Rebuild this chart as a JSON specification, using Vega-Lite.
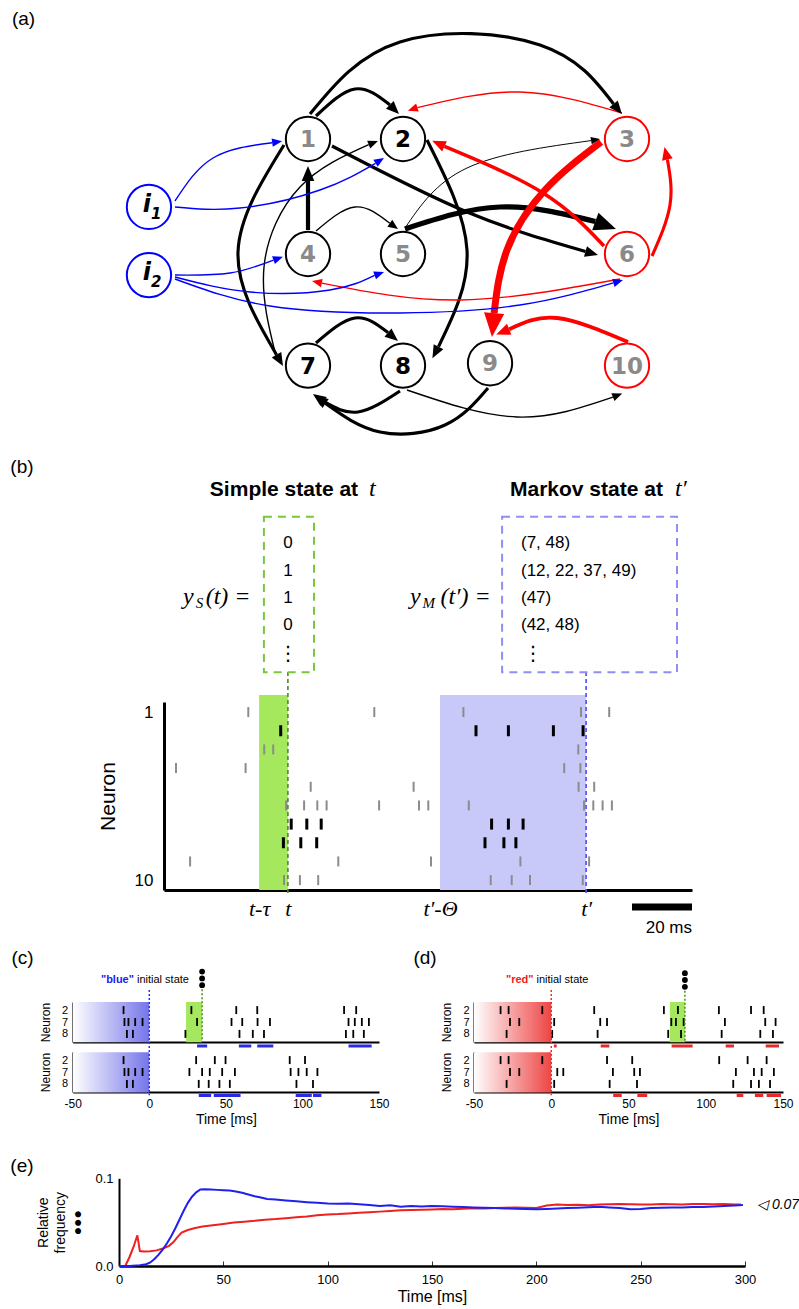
{
"$schema": "https://vega.github.io/schema/vega-lite/v6.json",
"width": 799, "height": 1309,
"autosize": {"type": "none"},
"padding": 0,
"background": "white",
"config": {
  "view": {"stroke": null},
  "axis": {"grid": false, "labelFont": "Liberation Sans", "titleFont": "Liberation Sans", "labelColor": "black", "titleColor": "black", "domainColor": "black", "tickColor": "black", "zindex": 1, "labelOverlap": false, "labelFlush": false, "titleFontWeight": "normal"},
  "text": {"font": "Liberation Sans", "color": "black"}
},
"datasets": {
  "panelLetters": [
    {"panel": "(a)", "xp": 2.94, "yp": 1.45},
    {"panel": "(b)", "xp": 2.75, "yp": 35.68},
    {"panel": "(c)", "xp": 2.82, "yp": 73.19},
    {"panel": "(d)", "xp": 53.19, "yp": 73.19},
    {"panel": "(e)", "xp": 2.75, "yp": 89.08}
  ],
  "nodes": [
    {"id": "1", "u": 0, "v": 0, "type": "excitatory", "observed": false},
    {"id": "2", "u": 1, "v": 0, "type": "excitatory", "observed": true},
    {"id": "3", "u": 3.358, "v": 0, "type": "inhibitory", "observed": false},
    {"id": "4", "u": 0, "v": 1, "type": "excitatory", "observed": false},
    {"id": "5", "u": 1, "v": 1, "type": "excitatory", "observed": false},
    {"id": "6", "u": 3.358, "v": 1, "type": "inhibitory", "observed": false},
    {"id": "7", "u": 0, "v": 1.97, "type": "excitatory", "observed": true},
    {"id": "8", "u": 1, "v": 1.97, "type": "excitatory", "observed": true},
    {"id": "9", "u": 1.916, "v": 1.95, "type": "excitatory", "observed": false},
    {"id": "10", "u": 3.358, "v": 1.97, "type": "inhibitory", "observed": false},
    {"id": "i1", "u": -1.674, "v": 0.591, "type": "input", "observed": true, "base": "i", "sub": "1"},
    {"id": "i2", "u": -1.674, "v": 1.183, "type": "input", "observed": true, "base": "i", "sub": "2"}
  ],
  "edges": [
    {"edge": "1-2", "type": "excitatory", "w": 0.45, "seq": 0, "u": 0.0842, "v": -0.2},
    {"edge": "1-2", "type": "excitatory", "w": 0.45, "seq": 1, "u": 0.4947, "v": -0.4348},
    {"edge": "1-2", "type": "excitatory", "w": 0.45, "seq": 2, "u": 0.8611, "v": -0.2974, "head": true, "angle": 135},
    {"edge": "1-3", "type": "excitatory", "w": 0.45, "seq": 0, "u": 0.0211, "v": -0.2174},
    {"edge": "1-3", "type": "excitatory", "w": 0.45, "seq": 1, "u": 0.9684, "v": -0.8435},
    {"edge": "1-3", "type": "excitatory", "w": 0.45, "seq": 2, "u": 2.4421, "v": -0.8174},
    {"edge": "1-3", "type": "excitatory", "w": 0.45, "seq": 3, "u": 3.2168, "v": -0.3043, "head": true, "angle": 140},
    {"edge": "1-6", "type": "excitatory", "w": 0.45, "seq": 0, "u": 0.2526, "v": 0.0609},
    {"edge": "1-6", "type": "excitatory", "w": 0.45, "seq": 1, "u": 1.6737, "v": 0.6348},
    {"edge": "1-6", "type": "excitatory", "w": 0.45, "seq": 2, "u": 2.9211, "v": 0.9774, "head": true, "angle": 106},
    {"edge": "4-1", "type": "excitatory", "w": 0.6, "seq": 0, "u": 0, "v": 0.7913},
    {"edge": "4-1", "type": "excitatory", "w": 0.6, "seq": 1, "u": 0, "v": 0.5739},
    {"edge": "4-1", "type": "excitatory", "w": 0.6, "seq": 2, "u": 0, "v": 0.3652, "head": true, "angle": 0},
    {"edge": "4-5", "type": "excitatory", "w": 0.2, "seq": 0, "u": 0.0842, "v": 0.8},
    {"edge": "4-5", "type": "excitatory", "w": 0.2, "seq": 1, "u": 0.4947, "v": 0.5913},
    {"edge": "4-5", "type": "excitatory", "w": 0.2, "seq": 2, "u": 0.8611, "v": 0.733, "head": true, "angle": 125},
    {"edge": "5-6", "type": "excitatory", "w": 0.75, "seq": 0, "u": 1.0211, "v": 0.7826},
    {"edge": "5-6", "type": "excitatory", "w": 0.75, "seq": 1, "u": 2.0211, "v": 0.5913},
    {"edge": "5-6", "type": "excitatory", "w": 0.75, "seq": 2, "u": 3.0242, "v": 0.7174, "head": true, "angle": 110},
    {"edge": "5-3", "type": "excitatory", "w": 0.14, "seq": 0, "u": 1.0211, "v": 0.7739},
    {"edge": "5-3", "type": "excitatory", "w": 0.14, "seq": 1, "u": 1.6737, "v": 0.2522},
    {"edge": "5-3", "type": "excitatory", "w": 0.14, "seq": 2, "u": 2.98, "v": 0.0139, "head": true, "angle": 80},
    {"edge": "2-8", "type": "excitatory", "w": 0.45, "seq": 0, "u": 1.2526, "v": 0.0087},
    {"edge": "2-8", "type": "excitatory", "w": 0.45, "seq": 1, "u": 1.6737, "v": 0.9652},
    {"edge": "2-8", "type": "excitatory", "w": 0.45, "seq": 2, "u": 1.3737, "v": 1.8061, "head": true, "angle": 208},
    {"edge": "7-8", "type": "excitatory", "w": 0.45, "seq": 0, "u": 0.0842, "v": 1.7739},
    {"edge": "7-8", "type": "excitatory", "w": 0.45, "seq": 1, "u": 0.4947, "v": 1.5565},
    {"edge": "7-8", "type": "excitatory", "w": 0.45, "seq": 2, "u": 0.8421, "v": 1.6835, "head": true, "angle": 130},
    {"edge": "8-7", "type": "excitatory", "w": 0.45, "seq": 0, "u": 0.9684, "v": 2.1913},
    {"edge": "8-7", "type": "excitatory", "w": 0.45, "seq": 1, "u": 0.5263, "v": 2.3739},
    {"edge": "8-7", "type": "excitatory", "w": 0.45, "seq": 2, "u": 0.1642, "v": 2.2826, "head": true, "angle": 305},
    {"edge": "9-7", "type": "excitatory", "w": 0.45, "seq": 0, "u": 1.8947, "v": 2.1652},
    {"edge": "9-7", "type": "excitatory", "w": 0.45, "seq": 1, "u": 1.4421, "v": 2.487},
    {"edge": "9-7", "type": "excitatory", "w": 0.45, "seq": 2, "u": 0.7579, "v": 2.5478},
    {"edge": "9-7", "type": "excitatory", "w": 0.45, "seq": 3, "u": 0.1853, "v": 2.3, "head": true, "angle": 305},
    {"edge": "8-10", "type": "excitatory", "w": 0.2, "seq": 0, "u": 1.0421, "v": 2.1826},
    {"edge": "8-10", "type": "excitatory", "w": 0.2, "seq": 1, "u": 2.2, "v": 2.4174},
    {"edge": "8-10", "type": "excitatory", "w": 0.2, "seq": 2, "u": 3.2095, "v": 2.2452, "head": true, "angle": 68},
    {"edge": "1-7", "type": "excitatory", "w": 0.45, "seq": 0, "u": -0.2526, "v": 0.0522},
    {"edge": "1-7", "type": "excitatory", "w": 0.45, "seq": 1, "u": -0.7368, "v": 0.9826},
    {"edge": "1-7", "type": "excitatory", "w": 0.45, "seq": 2, "u": -0.3316, "v": 1.8757, "head": true, "angle": 150},
    {"edge": "7-2", "type": "excitatory", "w": 0.2, "seq": 0, "u": -0.3263, "v": 1.9217},
    {"edge": "7-2", "type": "excitatory", "w": 0.2, "seq": 1, "u": -0.4632, "v": 1.113},
    {"edge": "7-2", "type": "excitatory", "w": 0.2, "seq": 2, "u": -0.0842, "v": 0.4174},
    {"edge": "7-2", "type": "excitatory", "w": 0.2, "seq": 3, "u": 0.6389, "v": 0.0496, "head": true, "angle": 68},
    {"edge": "3-2", "type": "inhibitory", "w": 0.2, "seq": 0, "u": 3.3053, "v": -0.2261},
    {"edge": "3-2", "type": "inhibitory", "w": 0.2, "seq": 1, "u": 2.2316, "v": -0.4087},
    {"edge": "3-2", "type": "inhibitory", "w": 0.2, "seq": 2, "u": 1.1516, "v": -0.273, "head": true, "angle": 252},
    {"edge": "6-2", "type": "inhibitory", "w": 0.5, "seq": 0, "u": 3.1158, "v": 0.9304},
    {"edge": "6-2", "type": "inhibitory", "w": 0.5, "seq": 1, "u": 2.4737, "v": 0.4696},
    {"edge": "6-2", "type": "inhibitory", "w": 0.5, "seq": 2, "u": 1.4368, "v": 0.0643, "head": true, "angle": 295},
    {"edge": "3-9", "type": "inhibitory", "w": 1.0, "seq": 0, "u": 3.0842, "v": 0.0261},
    {"edge": "3-9", "type": "inhibitory", "w": 1.0, "seq": 1, "u": 2.4947, "v": 0.4435},
    {"edge": "3-9", "type": "inhibitory", "w": 1.0, "seq": 2, "u": 2.0947, "v": 0.9652},
    {"edge": "3-9", "type": "inhibitory", "w": 1.0, "seq": 3, "u": 1.9589, "v": 1.5139, "head": true, "angle": 185},
    {"edge": "6-3", "type": "inhibitory", "w": 0.45, "seq": 0, "u": 3.6211, "v": 1.0174},
    {"edge": "6-3", "type": "inhibitory", "w": 0.45, "seq": 1, "u": 3.8105, "v": 0.5739},
    {"edge": "6-3", "type": "inhibitory", "w": 0.45, "seq": 2, "u": 3.7832, "v": 0.1791, "head": true, "angle": 347},
    {"edge": "10-9", "type": "inhibitory", "w": 0.55, "seq": 0, "u": 3.3684, "v": 1.7652},
    {"edge": "10-9", "type": "inhibitory", "w": 0.55, "seq": 1, "u": 2.6211, "v": 1.5565},
    {"edge": "10-9", "type": "inhibitory", "w": 0.55, "seq": 2, "u": 2.1179, "v": 1.6539, "head": true, "angle": 248},
    {"edge": "6-4", "type": "inhibitory", "w": 0.2, "seq": 0, "u": 3.2842, "v": 1.2174},
    {"edge": "6-4", "type": "inhibitory", "w": 0.2, "seq": 1, "u": 1.6, "v": 1.4},
    {"edge": "6-4", "type": "inhibitory", "w": 0.2, "seq": 2, "u": 0.1453, "v": 1.253, "head": true, "angle": 282},
    {"edge": "i1-1", "type": "input", "w": 0.2, "seq": 0, "u": -1.4, "v": 0.5391},
    {"edge": "i1-1", "type": "input", "w": 0.2, "seq": 1, "u": -1.0, "v": 0.1652},
    {"edge": "i1-1", "type": "input", "w": 0.2, "seq": 2, "u": -0.3768, "v": 0.0322, "head": true, "angle": 82},
    {"edge": "i1-2", "type": "input", "w": 0.2, "seq": 0, "u": -1.4, "v": 0.5913},
    {"edge": "i1-2", "type": "input", "w": 0.2, "seq": 1, "u": -0.7158, "v": 0.6},
    {"edge": "i1-2", "type": "input", "w": 0.2, "seq": 2, "u": 0.1263, "v": 0.4435},
    {"edge": "i1-2", "type": "input", "w": 0.2, "seq": 3, "u": 0.7105, "v": 0.2113, "head": true, "angle": 58},
    {"edge": "i2-4", "type": "input", "w": 0.2, "seq": 0, "u": -1.4, "v": 1.1826},
    {"edge": "i2-4", "type": "input", "w": 0.2, "seq": 1, "u": -0.8211, "v": 1.1652},
    {"edge": "i2-4", "type": "input", "w": 0.2, "seq": 2, "u": -0.3632, "v": 1.053, "head": true, "angle": 70},
    {"edge": "i2-5", "type": "input", "w": 0.2, "seq": 0, "u": -1.4, "v": 1.2},
    {"edge": "i2-5", "type": "input", "w": 0.2, "seq": 1, "u": -0.6105, "v": 1.3304},
    {"edge": "i2-5", "type": "input", "w": 0.2, "seq": 2, "u": 0.2316, "v": 1.313},
    {"edge": "i2-5", "type": "input", "w": 0.2, "seq": 3, "u": 0.7011, "v": 1.1861, "head": true, "angle": 70},
    {"edge": "i2-6", "type": "input", "w": 0.2, "seq": 0, "u": -1.4, "v": 1.2174},
    {"edge": "i2-6", "type": "input", "w": 0.2, "seq": 1, "u": -0.4, "v": 1.4522},
    {"edge": "i2-6", "type": "input", "w": 0.2, "seq": 2, "u": 0.9684, "v": 1.513},
    {"edge": "i2-6", "type": "input", "w": 0.2, "seq": 3, "u": 2.2316, "v": 1.4435},
    {"edge": "i2-6", "type": "input", "w": 0.2, "seq": 4, "u": 3.2147, "v": 1.2513, "head": true, "angle": 73}
  ],
  "windowsB": [
    {"state": "simple", "start": 31.7, "end": 41.3},
    {"state": "markov", "start": 92.0, "end": 140.7}
  ],
  "boxesB": [
    {"state": "simple", "left": 33.3, "right": 50},
    {"state": "markov", "left": 112.7, "right": 171}
  ],
  "simpleState": [
    {"i": 1, "v": "0"}, {"i": 2, "v": "1"}, {"i": 3, "v": "1"}, {"i": 4, "v": "0"}
  ],
  "markovState": [
    {"i": 1, "v": "(7, 48)"}, {"i": 2, "v": "(12, 22, 37, 49)"}, {"i": 3, "v": "(47)"}, {"i": 4, "v": "(42, 48)"}
  ],
  "ellipsisB": [
    {"state": "simple", "at": 41.3}, {"state": "markov", "at": 123}
  ],
  "headersB": [
    {"state": "simple", "headEnd": 64.7, "head": "Simple state at", "symAt": 68.3, "sym": "t", "eqY": 6.3, "eqSub": 10.6, "eqArg": 13.9, "sub": "S", "arg": "(t) ="},
    {"state": "markov", "headEnd": 166.3, "head": "Markov state at", "symAt": 170.3, "sym": "t′", "eqY": 82, "eqSub": 86.2, "eqArg": 92.2, "sub": "M", "arg": "(t′) ="}
  ],
  "scaleBarB": [
    {"start": 156, "end": 176, "label": "20 ms"}
  ],
  "spikesB": [
    {"n": 1, "t": 28.1}, {"n": 1, "t": 70.1}, {"n": 1, "t": 99.8}, {"n": 1, "t": 139.0}, {"n": 1, "t": 148.4},
    {"n": 2, "t": 38.9}, {"n": 2, "t": 104.0}, {"n": 2, "t": 114.8}, {"n": 2, "t": 129.8}, {"n": 2, "t": 139.7},
    {"n": 3, "t": 33.4}, {"n": 3, "t": 36.4}, {"n": 3, "t": 138.1},
    {"n": 4, "t": 4.0}, {"n": 4, "t": 27.2}, {"n": 4, "t": 133.4}, {"n": 4, "t": 138.8},
    {"n": 5, "t": 48.9}, {"n": 5, "t": 83.2}, {"n": 5, "t": 138.2}, {"n": 5, "t": 143.4},
    {"n": 6, "t": 40.7}, {"n": 6, "t": 46.7}, {"n": 6, "t": 51.1}, {"n": 6, "t": 54.2}, {"n": 6, "t": 71.7}, {"n": 6, "t": 85.0}, {"n": 6, "t": 88.1}, {"n": 6, "t": 101.6}, {"n": 6, "t": 140.0}, {"n": 6, "t": 143.1}, {"n": 6, "t": 146.2}, {"n": 6, "t": 149.3},
    {"n": 7, "t": 42.4}, {"n": 7, "t": 47.6}, {"n": 7, "t": 52.4}, {"n": 7, "t": 109.2}, {"n": 7, "t": 114.8}, {"n": 7, "t": 119.7},
    {"n": 8, "t": 39.8}, {"n": 8, "t": 45.6}, {"n": 8, "t": 50.9}, {"n": 8, "t": 107.0}, {"n": 8, "t": 113.3}, {"n": 8, "t": 117.3},
    {"n": 9, "t": 8.7}, {"n": 9, "t": 58.1}, {"n": 9, "t": 89.0}, {"n": 9, "t": 118.8}, {"n": 9, "t": 141.7},
    {"n": 10, "t": 40.0}, {"n": 10, "t": 45.3}, {"n": 10, "t": 51.4}, {"n": 10, "t": 108.9}, {"n": 10, "t": 115.9}, {"n": 10, "t": 122.0}, {"n": 10, "t": 139.6}
  ],
  "cdRaster": [
    {"p": "c", "tr": "top", "n": 2, "t": -16.8}, {"p": "c", "tr": "top", "n": 2, "t": 27.5}, {"p": "c", "tr": "top", "n": 2, "t": 56.8}, {"p": "c", "tr": "top", "n": 2, "t": 70.5}, {"p": "c", "tr": "top", "n": 2, "t": 127.2}, {"p": "c", "tr": "top", "n": 2, "t": 135.1},
    {"p": "c", "tr": "top", "n": 7, "t": -16.2}, {"p": "c", "tr": "top", "n": 7, "t": -13.6}, {"p": "c", "tr": "top", "n": 7, "t": -9.2}, {"p": "c", "tr": "top", "n": 7, "t": -4.4}, {"p": "c", "tr": "top", "n": 7, "t": 31.2}, {"p": "c", "tr": "top", "n": 7, "t": 53.7}, {"p": "c", "tr": "top", "n": 7, "t": 60.7}, {"p": "c", "tr": "top", "n": 7, "t": 70.7}, {"p": "c", "tr": "top", "n": 7, "t": 78.8}, {"p": "c", "tr": "top", "n": 7, "t": 130.1}, {"p": "c", "tr": "top", "n": 7, "t": 134.2}, {"p": "c", "tr": "top", "n": 7, "t": 138.8}, {"p": "c", "tr": "top", "n": 7, "t": 143.4},
    {"p": "c", "tr": "top", "n": 8, "t": -14.6}, {"p": "c", "tr": "top", "n": 8, "t": -10.7}, {"p": "c", "tr": "top", "n": 8, "t": 23.6}, {"p": "c", "tr": "top", "n": 8, "t": 58.9}, {"p": "c", "tr": "top", "n": 8, "t": 67.6}, {"p": "c", "tr": "top", "n": 8, "t": 74.9}, {"p": "c", "tr": "top", "n": 8, "t": 128.4}, {"p": "c", "tr": "top", "n": 8, "t": 133.2}, {"p": "c", "tr": "top", "n": 8, "t": 140.1},
    {"p": "c", "tr": "bottom", "n": 2, "t": -16.8}, {"p": "c", "tr": "bottom", "n": 2, "t": 30.6}, {"p": "c", "tr": "bottom", "n": 2, "t": 42.8}, {"p": "c", "tr": "bottom", "n": 2, "t": 49.8}, {"p": "c", "tr": "bottom", "n": 2, "t": 91.7}, {"p": "c", "tr": "bottom", "n": 2, "t": 101.7},
    {"p": "c", "tr": "bottom", "n": 7, "t": -16.2}, {"p": "c", "tr": "bottom", "n": 7, "t": -13.6}, {"p": "c", "tr": "bottom", "n": 7, "t": -9.2}, {"p": "c", "tr": "bottom", "n": 7, "t": -4.4}, {"p": "c", "tr": "bottom", "n": 7, "t": 26.2}, {"p": "c", "tr": "bottom", "n": 7, "t": 34.5}, {"p": "c", "tr": "bottom", "n": 7, "t": 39.5}, {"p": "c", "tr": "bottom", "n": 7, "t": 47.6}, {"p": "c", "tr": "bottom", "n": 7, "t": 55.9}, {"p": "c", "tr": "bottom", "n": 7, "t": 92.3}, {"p": "c", "tr": "bottom", "n": 7, "t": 97.4}, {"p": "c", "tr": "bottom", "n": 7, "t": 102.8}, {"p": "c", "tr": "bottom", "n": 7, "t": 109.8},
    {"p": "c", "tr": "bottom", "n": 8, "t": -14.6}, {"p": "c", "tr": "bottom", "n": 8, "t": -10.7}, {"p": "c", "tr": "bottom", "n": 8, "t": 32.3}, {"p": "c", "tr": "bottom", "n": 8, "t": 38.8}, {"p": "c", "tr": "bottom", "n": 8, "t": 45.8}, {"p": "c", "tr": "bottom", "n": 8, "t": 52.6}, {"p": "c", "tr": "bottom", "n": 8, "t": 96.1}, {"p": "c", "tr": "bottom", "n": 8, "t": 106.9},
    {"p": "d", "tr": "top", "n": 2, "t": -32.8}, {"p": "d", "tr": "top", "n": 2, "t": -27.6}, {"p": "d", "tr": "top", "n": 2, "t": -5.8}, {"p": "d", "tr": "top", "n": 2, "t": 27.8}, {"p": "d", "tr": "top", "n": 2, "t": 72.9}, {"p": "d", "tr": "top", "n": 2, "t": 82.0}, {"p": "d", "tr": "top", "n": 2, "t": 108.5}, {"p": "d", "tr": "top", "n": 2, "t": 129.3}, {"p": "d", "tr": "top", "n": 2, "t": 137.5},
    {"p": "d", "tr": "top", "n": 7, "t": -26.7}, {"p": "d", "tr": "top", "n": 7, "t": -20.7}, {"p": "d", "tr": "top", "n": 7, "t": 1.9}, {"p": "d", "tr": "top", "n": 7, "t": 31.7}, {"p": "d", "tr": "top", "n": 7, "t": 36.1}, {"p": "d", "tr": "top", "n": 7, "t": 77.7}, {"p": "d", "tr": "top", "n": 7, "t": 80.7}, {"p": "d", "tr": "top", "n": 7, "t": 85.7}, {"p": "d", "tr": "top", "n": 7, "t": 112.4}, {"p": "d", "tr": "top", "n": 7, "t": 138.5}, {"p": "d", "tr": "top", "n": 7, "t": 145.2},
    {"p": "d", "tr": "top", "n": 8, "t": -28.9}, {"p": "d", "tr": "top", "n": 8, "t": 0.6}, {"p": "d", "tr": "top", "n": 8, "t": 30.0}, {"p": "d", "tr": "top", "n": 8, "t": 75.7}, {"p": "d", "tr": "top", "n": 8, "t": 84.0}, {"p": "d", "tr": "top", "n": 8, "t": 110.3}, {"p": "d", "tr": "top", "n": 8, "t": 135.3}, {"p": "d", "tr": "top", "n": 8, "t": 143.5},
    {"p": "d", "tr": "bottom", "n": 2, "t": -32.8}, {"p": "d", "tr": "bottom", "n": 2, "t": -27.6}, {"p": "d", "tr": "bottom", "n": 2, "t": -5.8}, {"p": "d", "tr": "bottom", "n": 2, "t": 36.1}, {"p": "d", "tr": "bottom", "n": 2, "t": 52.4}, {"p": "d", "tr": "bottom", "n": 2, "t": 108.7}, {"p": "d", "tr": "bottom", "n": 2, "t": 127.1}, {"p": "d", "tr": "bottom", "n": 2, "t": 139.4},
    {"p": "d", "tr": "bottom", "n": 7, "t": -26.7}, {"p": "d", "tr": "bottom", "n": 7, "t": -20.7}, {"p": "d", "tr": "bottom", "n": 7, "t": 3.9}, {"p": "d", "tr": "bottom", "n": 7, "t": 7.8}, {"p": "d", "tr": "bottom", "n": 7, "t": 39.9}, {"p": "d", "tr": "bottom", "n": 7, "t": 53.7}, {"p": "d", "tr": "bottom", "n": 7, "t": 57.4}, {"p": "d", "tr": "bottom", "n": 7, "t": 119.5}, {"p": "d", "tr": "bottom", "n": 7, "t": 131.2}, {"p": "d", "tr": "bottom", "n": 7, "t": 136.2}, {"p": "d", "tr": "bottom", "n": 7, "t": 144.1},
    {"p": "d", "tr": "bottom", "n": 8, "t": -28.9}, {"p": "d", "tr": "bottom", "n": 8, "t": 1.9}, {"p": "d", "tr": "bottom", "n": 8, "t": 37.8}, {"p": "d", "tr": "bottom", "n": 8, "t": 55.5}, {"p": "d", "tr": "bottom", "n": 8, "t": 117.8}, {"p": "d", "tr": "bottom", "n": 8, "t": 129.3}, {"p": "d", "tr": "bottom", "n": 8, "t": 134.4}, {"p": "d", "tr": "bottom", "n": 8, "t": 141.6}
  ],
  "cdBars": [
    {"p": "c", "tr": "top", "s": 31.2, "e": 37.8}, {"p": "c", "tr": "top", "s": 58.5, "e": 66.6}, {"p": "c", "tr": "top", "s": 70.5, "e": 81.0}, {"p": "c", "tr": "top", "s": 130.1, "e": 145.2},
    {"p": "c", "tr": "bottom", "s": 32.3, "e": 40.4}, {"p": "c", "tr": "bottom", "s": 42.1, "e": 59.6}, {"p": "c", "tr": "bottom", "s": 95.6, "e": 106.1}, {"p": "c", "tr": "bottom", "s": 106.9, "e": 112.4},
    {"p": "d", "tr": "top", "s": 1.7, "e": 3.5}, {"p": "d", "tr": "top", "s": 32.0, "e": 37.6}, {"p": "d", "tr": "top", "s": 77.9, "e": 91.5}, {"p": "d", "tr": "top", "s": 112.9, "e": 118.3}, {"p": "d", "tr": "top", "s": 138.8, "e": 147.4},
    {"p": "d", "tr": "bottom", "s": 40.1, "e": 45.6}, {"p": "d", "tr": "bottom", "s": 55.7, "e": 62.1}, {"p": "d", "tr": "bottom", "s": 120.0, "e": 124.3}, {"p": "d", "tr": "bottom", "s": 131.8, "e": 137.2}, {"p": "d", "tr": "bottom", "s": 139.4, "e": 148.7}
  ],
  "cdWin": [
    {"p": "c", "tr": "top", "k": "init", "s": -50, "e": 0},
    {"p": "c", "tr": "bottom", "k": "init", "s": -50, "e": 0},
    {"p": "c", "tr": "top", "k": "detect", "s": 24.0, "e": 34.5},
    {"p": "d", "tr": "top", "k": "init", "s": -50, "e": 0},
    {"p": "d", "tr": "bottom", "k": "init", "s": -50, "e": 0},
    {"p": "d", "tr": "top", "k": "detect", "s": 76.8, "e": 86.5}
  ],
  "cdGuides": [
    {"p": "c", "tone": "blue", "t": 0, "from": -0.3, "to": 2.33},
    {"p": "c", "tone": "detect", "t": 34.5, "from": -0.42, "to": 1.0},
    {"p": "d", "tone": "red", "t": 0, "from": -0.3, "to": 2.33},
    {"p": "d", "tone": "detect", "t": 86.5, "from": -0.38, "to": 1.0}
  ],
  "cdDots": [
    {"p": "c", "t": 34.5, "lane": -0.76}, {"p": "c", "t": 34.5, "lane": -0.59}, {"p": "c", "t": 34.5, "lane": -0.42},
    {"p": "d", "t": 86.5, "lane": -0.72}, {"p": "d", "t": 86.5, "lane": -0.55}, {"p": "d", "t": 86.5, "lane": -0.38}
  ],
  "cdText": [
    {"p": "c", "tone": "blue", "t": -10, "lane": -0.55, "word": "\"blue\"", "rest": "initial state"},
    {"p": "d", "tone": "red", "t": -11.5, "lane": -0.55, "word": "\"red\"", "rest": "initial state"}
  ],
  "curveE": [
    {"s": "red", "t": 0, "f": 0}, {"s": "red", "t": 3, "f": 0}, {"s": "red", "t": 5, "f": 0.010}, {"s": "red", "t": 7, "f": 0.022}, {"s": "red", "t": 8.8, "f": 0.035}, {"s": "red", "t": 10, "f": 0.017}, {"s": "red", "t": 12, "f": 0.0165}, {"s": "red", "t": 15, "f": 0.0168}, {"s": "red", "t": 18, "f": 0.0178}, {"s": "red", "t": 21, "f": 0.020}, {"s": "red", "t": 24, "f": 0.023}, {"s": "red", "t": 26, "f": 0.027}, {"s": "red", "t": 28, "f": 0.033}, {"s": "red", "t": 30, "f": 0.038}, {"s": "red", "t": 33, "f": 0.041}, {"s": "red", "t": 36, "f": 0.043}, {"s": "red", "t": 40, "f": 0.045}, {"s": "red", "t": 45, "f": 0.0465}, {"s": "red", "t": 50, "f": 0.048}, {"s": "red", "t": 55, "f": 0.0495}, {"s": "red", "t": 60, "f": 0.0505}, {"s": "red", "t": 65, "f": 0.0515}, {"s": "red", "t": 70, "f": 0.0528}, {"s": "red", "t": 75, "f": 0.0535}, {"s": "red", "t": 80, "f": 0.0545}, {"s": "red", "t": 85, "f": 0.0555}, {"s": "red", "t": 90, "f": 0.0565}, {"s": "red", "t": 95, "f": 0.0578}, {"s": "red", "t": 100, "f": 0.0588}, {"s": "red", "t": 105, "f": 0.0592}, {"s": "red", "t": 110, "f": 0.06}, {"s": "red", "t": 115, "f": 0.0606}, {"s": "red", "t": 120, "f": 0.0612}, {"s": "red", "t": 125, "f": 0.062}, {"s": "red", "t": 130, "f": 0.0628}, {"s": "red", "t": 135, "f": 0.0636}, {"s": "red", "t": 140, "f": 0.0638}, {"s": "red", "t": 145, "f": 0.0642}, {"s": "red", "t": 150, "f": 0.0645}, {"s": "red", "t": 155, "f": 0.065}, {"s": "red", "t": 160, "f": 0.0646}, {"s": "red", "t": 165, "f": 0.0652}, {"s": "red", "t": 170, "f": 0.0658}, {"s": "red", "t": 175, "f": 0.0655}, {"s": "red", "t": 180, "f": 0.0662}, {"s": "red", "t": 185, "f": 0.0664}, {"s": "red", "t": 190, "f": 0.0668}, {"s": "red", "t": 195, "f": 0.0664}, {"s": "red", "t": 200, "f": 0.0662}, {"s": "red", "t": 205, "f": 0.069}, {"s": "red", "t": 210, "f": 0.0702}, {"s": "red", "t": 215, "f": 0.0696}, {"s": "red", "t": 220, "f": 0.0698}, {"s": "red", "t": 225, "f": 0.0694}, {"s": "red", "t": 230, "f": 0.07}, {"s": "red", "t": 235, "f": 0.0705}, {"s": "red", "t": 240, "f": 0.0708}, {"s": "red", "t": 245, "f": 0.0703}, {"s": "red", "t": 250, "f": 0.07}, {"s": "red", "t": 255, "f": 0.0702}, {"s": "red", "t": 260, "f": 0.0706}, {"s": "red", "t": 265, "f": 0.0704}, {"s": "red", "t": 270, "f": 0.07}, {"s": "red", "t": 275, "f": 0.0706}, {"s": "red", "t": 280, "f": 0.0708}, {"s": "red", "t": 285, "f": 0.0704}, {"s": "red", "t": 290, "f": 0.0706}, {"s": "red", "t": 295, "f": 0.0702}, {"s": "red", "t": 298, "f": 0.07},
    {"s": "blue", "t": 0, "f": 0}, {"s": "blue", "t": 5, "f": 0}, {"s": "blue", "t": 10, "f": 0.001}, {"s": "blue", "t": 13, "f": 0.002}, {"s": "blue", "t": 15, "f": 0.004}, {"s": "blue", "t": 17, "f": 0.008}, {"s": "blue", "t": 19, "f": 0.013}, {"s": "blue", "t": 21, "f": 0.019}, {"s": "blue", "t": 23, "f": 0.026}, {"s": "blue", "t": 25, "f": 0.034}, {"s": "blue", "t": 27, "f": 0.043}, {"s": "blue", "t": 29, "f": 0.053}, {"s": "blue", "t": 31, "f": 0.063}, {"s": "blue", "t": 33, "f": 0.072}, {"s": "blue", "t": 35, "f": 0.079}, {"s": "blue", "t": 37, "f": 0.084}, {"s": "blue", "t": 39, "f": 0.0872}, {"s": "blue", "t": 41, "f": 0.0875}, {"s": "blue", "t": 44, "f": 0.0872}, {"s": "blue", "t": 47, "f": 0.0868}, {"s": "blue", "t": 50, "f": 0.0865}, {"s": "blue", "t": 53, "f": 0.086}, {"s": "blue", "t": 56, "f": 0.085}, {"s": "blue", "t": 59, "f": 0.0835}, {"s": "blue", "t": 62, "f": 0.0815}, {"s": "blue", "t": 65, "f": 0.0795}, {"s": "blue", "t": 68, "f": 0.078}, {"s": "blue", "t": 71, "f": 0.0765}, {"s": "blue", "t": 75, "f": 0.0758}, {"s": "blue", "t": 80, "f": 0.0748}, {"s": "blue", "t": 85, "f": 0.0738}, {"s": "blue", "t": 90, "f": 0.0728}, {"s": "blue", "t": 95, "f": 0.072}, {"s": "blue", "t": 100, "f": 0.0712}, {"s": "blue", "t": 105, "f": 0.071}, {"s": "blue", "t": 110, "f": 0.0714}, {"s": "blue", "t": 115, "f": 0.0705}, {"s": "blue", "t": 120, "f": 0.0695}, {"s": "blue", "t": 125, "f": 0.0685}, {"s": "blue", "t": 130, "f": 0.0692}, {"s": "blue", "t": 135, "f": 0.0676}, {"s": "blue", "t": 140, "f": 0.0684}, {"s": "blue", "t": 145, "f": 0.0678}, {"s": "blue", "t": 150, "f": 0.0684}, {"s": "blue", "t": 155, "f": 0.068}, {"s": "blue", "t": 160, "f": 0.0676}, {"s": "blue", "t": 165, "f": 0.0672}, {"s": "blue", "t": 170, "f": 0.0668}, {"s": "blue", "t": 175, "f": 0.0664}, {"s": "blue", "t": 180, "f": 0.066}, {"s": "blue", "t": 185, "f": 0.0656}, {"s": "blue", "t": 190, "f": 0.0654}, {"s": "blue", "t": 195, "f": 0.065}, {"s": "blue", "t": 200, "f": 0.0646}, {"s": "blue", "t": 205, "f": 0.065}, {"s": "blue", "t": 210, "f": 0.0655}, {"s": "blue", "t": 215, "f": 0.066}, {"s": "blue", "t": 220, "f": 0.0665}, {"s": "blue", "t": 225, "f": 0.067}, {"s": "blue", "t": 230, "f": 0.0676}, {"s": "blue", "t": 235, "f": 0.0668}, {"s": "blue", "t": 240, "f": 0.066}, {"s": "blue", "t": 245, "f": 0.0648}, {"s": "blue", "t": 250, "f": 0.065}, {"s": "blue", "t": 255, "f": 0.066}, {"s": "blue", "t": 260, "f": 0.0665}, {"s": "blue", "t": 265, "f": 0.0668}, {"s": "blue", "t": 270, "f": 0.0666}, {"s": "blue", "t": 275, "f": 0.0672}, {"s": "blue", "t": 280, "f": 0.0674}, {"s": "blue", "t": 285, "f": 0.0678}, {"s": "blue", "t": 290, "f": 0.0684}, {"s": "blue", "t": 295, "f": 0.069}, {"s": "blue", "t": 299, "f": 0.0695}
  ],
  "asymptoteE": [
    {"value": 0.07, "t": 300, "label": "◁ 0.07"}
  ]
},
"resolve": {
  "scale": {"x": "independent", "y": "independent", "color": "independent", "stroke": "independent", "size": "independent", "angle": "independent", "strokeWidth": "independent"},
  "axis": {"x": "independent", "y": "independent"}
},
"layer": [
  {"data": {"name": "panelLetters"},
   "mark": {"type": "text", "fontSize": 19, "baseline": "middle", "align": "center"},
   "encoding": {
     "x": {"field": "xp", "type": "quantitative", "scale": {"domain": [0, 100], "range": [0, 799], "nice": false, "zero": false}, "axis": null},
     "y": {"field": "yp", "type": "quantitative", "scale": {"domain": [0, 100], "range": [0, 1309], "nice": false, "zero": false}, "axis": null},
     "text": {"field": "panel"}}},

  {"data": {"name": "edges"},
   "mark": {"type": "line", "interpolate": "natural", "strokeCap": "butt", "strokeJoin": "round"},
   "encoding": {
     "x": {"field": "u", "type": "quantitative", "scale": {"domain": [-3.2421, 5.1684], "range": [0, 799], "nice": false, "zero": false}, "axis": null},
     "y": {"field": "v", "type": "quantitative", "scale": {"domain": [-1.2087, 2.6609], "range": [0, 445], "nice": false, "zero": false}, "axis": null},
     "detail": {"field": "edge"},
     "order": {"field": "seq", "type": "quantitative"},
     "color": {"field": "type", "type": "nominal", "scale": {"domain": ["input", "excitatory", "inhibitory"], "range": ["#0000ff", "#000000", "#ff0000"]}, "legend": null},
     "strokeWidth": {"field": "w", "type": "quantitative", "scale": {"domain": [0, 1], "range": [0, 7], "zero": true}, "legend": null}}},

  {"data": {"name": "edges"},
   "transform": [{"filter": "datum.head === true"}],
   "mark": {"type": "point", "shape": "M0,-1L0.42,0L-0.42,0Z", "filled": true, "opacity": 1, "strokeWidth": 0},
   "encoding": {
     "x": {"field": "u", "type": "quantitative", "scale": {"domain": [-3.2421, 5.1684], "range": [0, 799], "nice": false, "zero": false}, "axis": null},
     "y": {"field": "v", "type": "quantitative", "scale": {"domain": [-1.2087, 2.6609], "range": [0, 445], "nice": false, "zero": false}, "axis": null},
     "color": {"field": "type", "type": "nominal", "scale": {"domain": ["input", "excitatory", "inhibitory"], "range": ["#0000ff", "#000000", "#ff0000"]}, "legend": null},
     "size": {"field": "w", "type": "quantitative", "scale": {"domain": [0.14, 0.2, 0.45, 0.55, 0.6, 0.75, 1.0], "range": [324, 400, 676, 784, 900, 1936, 2304], "zero": false}, "legend": null},
     "angle": {"field": "angle", "type": "quantitative", "scale": {"domain": [0, 360], "range": [0, 360], "zero": false}, "legend": null}}},

  {"data": {"name": "nodes"},
   "mark": {"type": "point", "shape": "circle", "size": 1963, "fill": "white", "fillOpacity": 1, "strokeWidth": 2, "opacity": 1},
   "encoding": {
     "x": {"field": "u", "type": "quantitative", "scale": {"domain": [-3.2421, 5.1684], "range": [0, 799], "nice": false, "zero": false}, "axis": null},
     "y": {"field": "v", "type": "quantitative", "scale": {"domain": [-1.2087, 2.6609], "range": [0, 445], "nice": false, "zero": false}, "axis": null},
     "stroke": {"field": "type", "type": "nominal", "scale": {"domain": ["input", "excitatory", "inhibitory"], "range": ["#0000ff", "#000000", "#ff0000"]}, "legend": null}}},

  {"data": {"name": "nodes"},
   "transform": [{"filter": "datum.type !== 'input'"}],
   "mark": {"type": "text", "font": "DejaVu Sans", "fontWeight": "bold", "fontSize": 23, "baseline": "middle", "align": "center", "dy": 1},
   "encoding": {
     "x": {"field": "u", "type": "quantitative", "scale": {"domain": [-3.2421, 5.1684], "range": [0, 799], "nice": false, "zero": false}, "axis": null},
     "y": {"field": "v", "type": "quantitative", "scale": {"domain": [-1.2087, 2.6609], "range": [0, 445], "nice": false, "zero": false}, "axis": null},
     "text": {"field": "id"},
     "color": {"field": "observed", "type": "nominal", "scale": {"domain": [true, false], "range": ["#000000", "#8a8a8a"]}, "legend": null}}},

  {"data": {"name": "nodes"},
   "transform": [{"filter": "datum.type === 'input'"}],
   "mark": {"type": "text", "font": "DejaVu Sans", "fontWeight": "bold", "fontStyle": "italic", "fontSize": 24, "baseline": "middle", "align": "right", "dx": 2, "dy": -2, "color": "black"},
   "encoding": {
     "x": {"field": "u", "type": "quantitative", "scale": {"domain": [-3.2421, 5.1684], "range": [0, 799], "nice": false, "zero": false}, "axis": null},
     "y": {"field": "v", "type": "quantitative", "scale": {"domain": [-1.2087, 2.6609], "range": [0, 445], "nice": false, "zero": false}, "axis": null},
     "text": {"field": "base"}}},

  {"data": {"name": "nodes"},
   "transform": [{"filter": "datum.type === 'input'"}],
   "mark": {"type": "text", "font": "DejaVu Sans", "fontWeight": "bold", "fontStyle": "italic", "fontSize": 15, "baseline": "middle", "align": "left", "dx": 2, "dy": 7, "color": "black"},
   "encoding": {
     "x": {"field": "u", "type": "quantitative", "scale": {"domain": [-3.2421, 5.1684], "range": [0, 799], "nice": false, "zero": false}, "axis": null},
     "y": {"field": "v", "type": "quantitative", "scale": {"domain": [-1.2087, 2.6609], "range": [0, 445], "nice": false, "zero": false}, "axis": null},
     "text": {"field": "sub"}}},

  {"data": {"name": "windowsB"},
   "mark": {"type": "rect"},
   "encoding": {
     "x": {"field": "start", "type": "quantitative", "scale": {"domain": [0, 176], "range": [164, 692], "nice": false, "zero": false}, "axis": null},
     "x2": {"field": "end"},
     "y": {"datum": 0.085, "type": "quantitative", "scale": {"domain": [0.46, 10.53], "range": [702, 890], "nice": false, "zero": false}, "axis": null},
     "y2": {"datum": 10.53},
     "color": {"field": "state", "type": "nominal", "scale": {"domain": ["simple", "markov"], "range": ["#a6e85d", "#c9c9f9"]}, "legend": null}}},

  {"data": {"name": "spikesB"},
   "transform": [{"filter": "datum.n != 2 && datum.n != 7 && datum.n != 8"}],
   "mark": {"type": "tick", "orient": "vertical", "size": 10, "thickness": 2, "color": "#8c8c8c", "opacity": 1},
   "encoding": {
     "x": {"field": "t", "type": "quantitative", "scale": {"domain": [0, 176], "range": [164, 692], "nice": false, "zero": false},
           "axis": {"orient": "bottom", "offset": -419, "values": [31.7, 41.3, 92, 140.7], "labelExpr": "datum.value < 35 ? 't-τ' : datum.value < 50 ? 't' : datum.value < 100 ? 't′-Θ' : 't′'", "labelFont": "Liberation Serif", "labelFontStyle": "italic", "labelFontSize": 22, "labelPadding": 8, "ticks": false, "tickSize": 0, "domainWidth": 3, "title": null}},
     "y": {"field": "n", "type": "quantitative", "scale": {"domain": [0.46, 10.53], "range": [702, 890], "nice": false, "zero": false},
           "axis": {"orient": "left", "offset": -164, "values": [1, 10], "labelFontSize": 17, "labelPadding": 11, "ticks": false, "tickSize": 0, "domainWidth": 3, "title": "Neuron", "titleFontSize": 21, "titlePadding": 16}}}},

  {"data": {"name": "spikesB"},
   "transform": [{"filter": "datum.n == 2 || datum.n == 7 || datum.n == 8"}],
   "mark": {"type": "tick", "orient": "vertical", "size": 11, "thickness": 3, "color": "#000000", "opacity": 1},
   "encoding": {
     "x": {"field": "t", "type": "quantitative", "scale": {"domain": [0, 176], "range": [164, 692], "nice": false, "zero": false}, "axis": null},
     "y": {"field": "n", "type": "quantitative", "scale": {"domain": [0.46, 10.53], "range": [702, 890], "nice": false, "zero": false}, "axis": null}}},

  {"data": {"name": "windowsB"},
   "mark": {"type": "rule", "strokeDash": [4, 3], "strokeWidth": 1.6},
   "encoding": {
     "x": {"field": "end", "type": "quantitative", "scale": {"domain": [0, 176], "range": [164, 692], "nice": false, "zero": false}, "axis": null},
     "y": {"datum": -1.15, "type": "quantitative", "scale": {"domain": [0.46, 10.53], "range": [702, 890], "nice": false, "zero": false}, "axis": null},
     "y2": {"datum": 10.85},
     "color": {"field": "state", "type": "nominal", "scale": {"domain": ["simple", "markov"], "range": ["#4d8c1c", "#4d4dee"]}, "legend": null}}},

  {"data": {"name": "scaleBarB"},
   "mark": {"type": "rule", "strokeWidth": 7, "color": "black", "strokeCap": "butt"},
   "encoding": {
     "x": {"field": "start", "type": "quantitative", "scale": {"domain": [0, 176], "range": [164, 692], "nice": false, "zero": false}, "axis": null},
     "x2": {"field": "end"},
     "y": {"datum": 11.44, "type": "quantitative", "scale": {"domain": [0.46, 10.53], "range": [702, 890], "nice": false, "zero": false}, "axis": null}}},

  {"data": {"name": "scaleBarB"},
   "mark": {"type": "text", "fontSize": 17, "align": "right", "baseline": "middle"},
   "encoding": {
     "x": {"field": "end", "type": "quantitative", "scale": {"domain": [0, 176], "range": [164, 692], "nice": false, "zero": false}, "axis": null},
     "y": {"datum": 12.56, "type": "quantitative", "scale": {"domain": [0.46, 10.53], "range": [702, 890], "nice": false, "zero": false}, "axis": null},
     "text": {"field": "label"}}},

  {"data": {"name": "boxesB"},
   "mark": {"type": "rect", "filled": false, "strokeWidth": 2, "strokeDash": [8, 6]},
   "encoding": {
     "x": {"field": "left", "type": "quantitative", "scale": {"domain": [0, 176], "range": [164, 692], "nice": false, "zero": false}, "axis": null},
     "x2": {"field": "right"},
     "y": {"datum": 0.03, "type": "quantitative", "scale": {"domain": [0, 6], "range": [516, 680], "nice": false, "zero": false}, "axis": null},
     "y2": {"datum": 5.72},
     "color": {"field": "state", "type": "nominal", "scale": {"domain": ["simple", "markov"], "range": ["#79c83c", "#8f8ff3"]}, "legend": null}}},

  {"data": {"name": "simpleState"},
   "mark": {"type": "text", "fontSize": 17, "align": "center", "baseline": "middle"},
   "encoding": {
     "x": {"datum": 41.3, "type": "quantitative", "scale": {"domain": [0, 176], "range": [164, 692], "nice": false, "zero": false}, "axis": null},
     "y": {"field": "i", "type": "quantitative", "scale": {"domain": [0, 6], "range": [516, 680], "nice": false, "zero": false}, "axis": null},
     "text": {"field": "v"}}},

  {"data": {"name": "markovState"},
   "mark": {"type": "text", "fontSize": 17, "align": "left", "baseline": "middle"},
   "encoding": {
     "x": {"datum": 119, "type": "quantitative", "scale": {"domain": [0, 176], "range": [164, 692], "nice": false, "zero": false}, "axis": null},
     "y": {"field": "i", "type": "quantitative", "scale": {"domain": [0, 6], "range": [516, 680], "nice": false, "zero": false}, "axis": null},
     "text": {"field": "v"}}},

  {"data": {"name": "ellipsisB"},
   "mark": {"type": "text", "font": "DejaVu Sans", "fontSize": 20, "align": "center", "baseline": "middle", "text": "⋮"},
   "encoding": {
     "x": {"field": "at", "type": "quantitative", "scale": {"domain": [0, 176], "range": [164, 692], "nice": false, "zero": false}, "axis": null},
     "y": {"datum": 5.05, "type": "quantitative", "scale": {"domain": [0, 6], "range": [516, 680], "nice": false, "zero": false}, "axis": null}}},

  {"data": {"name": "headersB"},
   "mark": {"type": "text", "fontSize": 21, "fontWeight": "bold", "align": "right", "baseline": "middle"},
   "encoding": {
     "x": {"field": "headEnd", "type": "quantitative", "scale": {"domain": [0, 176], "range": [164, 692], "nice": false, "zero": false}, "axis": null},
     "y": {"datum": -0.95, "type": "quantitative", "scale": {"domain": [0, 6], "range": [516, 680], "nice": false, "zero": false}, "axis": null},
     "text": {"field": "head"}}},

  {"data": {"name": "headersB"},
   "mark": {"type": "text", "font": "Liberation Serif", "fontStyle": "italic", "fontSize": 24, "align": "left", "baseline": "middle"},
   "encoding": {
     "x": {"field": "symAt", "type": "quantitative", "scale": {"domain": [0, 176], "range": [164, 692], "nice": false, "zero": false}, "axis": null},
     "y": {"datum": -0.98, "type": "quantitative", "scale": {"domain": [0, 6], "range": [516, 680], "nice": false, "zero": false}, "axis": null},
     "text": {"field": "sym"}}},

  {"data": {"name": "headersB"},
   "mark": {"type": "text", "font": "Liberation Serif", "fontStyle": "italic", "fontSize": 24, "align": "left", "baseline": "middle", "text": "y"},
   "encoding": {
     "x": {"field": "eqY", "type": "quantitative", "scale": {"domain": [0, 176], "range": [164, 692], "nice": false, "zero": false}, "axis": null},
     "y": {"datum": 2.95, "type": "quantitative", "scale": {"domain": [0, 6], "range": [516, 680], "nice": false, "zero": false}, "axis": null}}},

  {"data": {"name": "headersB"},
   "mark": {"type": "text", "font": "Liberation Serif", "fontStyle": "italic", "fontSize": 15, "align": "left", "baseline": "middle", "dy": 6},
   "encoding": {
     "x": {"field": "eqSub", "type": "quantitative", "scale": {"domain": [0, 176], "range": [164, 692], "nice": false, "zero": false}, "axis": null},
     "y": {"datum": 2.95, "type": "quantitative", "scale": {"domain": [0, 6], "range": [516, 680], "nice": false, "zero": false}, "axis": null},
     "text": {"field": "sub"}}},

  {"data": {"name": "headersB"},
   "mark": {"type": "text", "font": "Liberation Serif", "fontStyle": "italic", "fontSize": 24, "align": "left", "baseline": "middle"},
   "encoding": {
     "x": {"field": "eqArg", "type": "quantitative", "scale": {"domain": [0, 176], "range": [164, 692], "nice": false, "zero": false}, "axis": null},
     "y": {"datum": 2.95, "type": "quantitative", "scale": {"domain": [0, 6], "range": [516, 680], "nice": false, "zero": false}, "axis": null},
     "text": {"field": "arg"}}},

  {"data": {"name": "cdWin"},
   "transform": [{"filter": "datum.p === 'c' && datum.k === 'init'"}],
   "mark": {"type": "rect", "fill": {"gradient": "linear", "x1": 0, "y1": 0, "x2": 1, "y2": 0, "stops": [{"offset": 0, "color": "#ffffff"}, {"offset": 1, "color": "#7575ea"}]}},
   "encoding": {
     "x": {"field": "s", "type": "quantitative", "scale": {"domain": [-50, 150], "range": [72.7, 379], "nice": false, "zero": false}, "axis": null},
     "x2": {"field": "e"},
     "y": {"field": "tr", "type": "nominal", "scale": {"type": "band", "domain": ["top", "bottom"], "range": [1002, 1092.5], "paddingInner": 0.2, "paddingOuter": 0}, "axis": null}}},

  {"data": {"name": "cdWin"},
   "transform": [{"filter": "datum.p === 'c' && datum.k === 'detect'"}],
   "mark": {"type": "rect", "color": "#a6e85d"},
   "encoding": {
     "x": {"field": "s", "type": "quantitative", "scale": {"domain": [-50, 150], "range": [72.7, 379], "nice": false, "zero": false}, "axis": null},
     "x2": {"field": "e"},
     "y": {"field": "tr", "type": "nominal", "scale": {"type": "band", "domain": ["top", "bottom"], "range": [1002, 1092.5], "paddingInner": 0.2, "paddingOuter": 0}, "axis": null}}},

  {"data": {"name": "cdRaster"},
   "transform": [{"filter": "datum.p === 'c' && datum.tr === 'top'"}],
   "mark": {"type": "tick", "orient": "vertical", "size": 8, "thickness": 1.8, "color": "black", "opacity": 1},
   "encoding": {
     "x": {"field": "t", "type": "quantitative", "scale": {"domain": [-50, 150], "range": [72.7, 379], "nice": false, "zero": false},
           "axis": {"orient": "bottom", "offset": -267, "labels": false, "ticks": false, "tickSize": 0, "domainWidth": 2, "title": null}},
     "y": {"field": "n", "type": "ordinal", "scale": {"type": "point", "domain": [2, 7, 8], "range": [1002, 1042], "padding": 0.68},
           "axis": {"orient": "left", "offset": -72.7, "ticks": false, "tickSize": 0, "labelFontSize": 11, "labelPadding": 5, "domainWidth": 2, "title": "Neuron", "titleFontSize": 12, "titlePadding": 9}}}},

  {"data": {"name": "cdRaster"},
   "transform": [{"filter": "datum.p === 'c' && datum.tr === 'bottom'"}],
   "mark": {"type": "tick", "orient": "vertical", "size": 8, "thickness": 1.8, "color": "black", "opacity": 1},
   "encoding": {
     "x": {"field": "t", "type": "quantitative", "scale": {"domain": [-50, 150], "range": [72.7, 379], "nice": false, "zero": false},
           "axis": {"orient": "bottom", "offset": -217, "values": [-50, 0, 50, 100, 150], "labelExpr": "'' + datum.value", "labelFontSize": 12, "labelPadding": 6, "ticks": false, "tickSize": 0, "domainWidth": 2, "title": "Time [ms]", "titleFontSize": 14, "titlePadding": 3}},
     "y": {"field": "n", "type": "ordinal", "scale": {"type": "point", "domain": [2, 7, 8], "range": [1052, 1092], "padding": 0.68},
           "axis": {"orient": "left", "offset": -72.7, "ticks": false, "tickSize": 0, "labelFontSize": 11, "labelPadding": 5, "domainWidth": 2, "title": "Neuron", "titleFontSize": 12, "titlePadding": 9}}}},

  {"data": {"name": "cdBars"},
   "transform": [{"filter": "datum.p === 'c'"}],
   "mark": {"type": "rule", "strokeWidth": 3, "color": "#2a2ae6", "strokeCap": "butt"},
   "encoding": {
     "x": {"field": "s", "type": "quantitative", "scale": {"domain": [-50, 150], "range": [72.7, 379], "nice": false, "zero": false}, "axis": null},
     "x2": {"field": "e"},
     "y": {"field": "tr", "type": "nominal", "scale": {"type": "point", "domain": ["top", "bottom"], "range": [1046, 1095.5], "padding": 0}, "axis": null}}},

  {"data": {"name": "cdGuides"},
   "transform": [{"filter": "datum.p === 'c'"}],
   "mark": {"type": "rule", "strokeWidth": 1.5, "strokeDash": [2, 2]},
   "encoding": {
     "x": {"field": "t", "type": "quantitative", "scale": {"domain": [-50, 150], "range": [72.7, 379], "nice": false, "zero": false}, "axis": null},
     "y": {"field": "from", "type": "quantitative", "scale": {"domain": [-1, 3], "range": [962, 1122], "nice": false, "zero": false}, "axis": null},
     "y2": {"field": "to"},
     "color": {"field": "tone", "type": "nominal", "scale": {"domain": ["blue", "red", "detect"], "range": ["#2f2ff0", "#f02f2f", "#4d8c1c"]}, "legend": null}}},

  {"data": {"name": "cdDots"},
   "transform": [{"filter": "datum.p === 'c'"}],
   "mark": {"type": "point", "shape": "circle", "filled": true, "size": 34, "color": "black", "opacity": 1},
   "encoding": {
     "x": {"field": "t", "type": "quantitative", "scale": {"domain": [-50, 150], "range": [72.7, 379], "nice": false, "zero": false}, "axis": null},
     "y": {"field": "lane", "type": "quantitative", "scale": {"domain": [-1, 3], "range": [962, 1122], "nice": false, "zero": false}, "axis": null}}},

  {"data": {"name": "cdText"},
   "transform": [{"filter": "datum.p === 'c'"}],
   "mark": {"type": "text", "fontSize": 11, "fontWeight": "bold", "align": "right", "baseline": "middle"},
   "encoding": {
     "x": {"field": "t", "type": "quantitative", "scale": {"domain": [-50, 150], "range": [72.7, 379], "nice": false, "zero": false}, "axis": null},
     "y": {"field": "lane", "type": "quantitative", "scale": {"domain": [-1, 3], "range": [962, 1122], "nice": false, "zero": false}, "axis": null},
     "text": {"field": "word"},
     "color": {"field": "tone", "type": "nominal", "scale": {"domain": ["blue", "red"], "range": ["#2020f0", "#f02020"]}, "legend": null}}},

  {"data": {"name": "cdText"},
   "transform": [{"filter": "datum.p === 'c'"}],
   "mark": {"type": "text", "fontSize": 11, "align": "left", "baseline": "middle", "dx": 3, "color": "black"},
   "encoding": {
     "x": {"field": "t", "type": "quantitative", "scale": {"domain": [-50, 150], "range": [72.7, 379], "nice": false, "zero": false}, "axis": null},
     "y": {"field": "lane", "type": "quantitative", "scale": {"domain": [-1, 3], "range": [962, 1122], "nice": false, "zero": false}, "axis": null},
     "text": {"field": "rest"}}},

  {"data": {"name": "cdWin"},
   "transform": [{"filter": "datum.p === 'd' && datum.k === 'init'"}],
   "mark": {"type": "rect", "fill": {"gradient": "linear", "x1": 0, "y1": 0, "x2": 1, "y2": 0, "stops": [{"offset": 0, "color": "#ffffff"}, {"offset": 1, "color": "#ee4545"}]}},
   "encoding": {
     "x": {"field": "s", "type": "quantitative", "scale": {"domain": [-50, 150], "range": [474, 783], "nice": false, "zero": false}, "axis": null},
     "x2": {"field": "e"},
     "y": {"field": "tr", "type": "nominal", "scale": {"type": "band", "domain": ["top", "bottom"], "range": [1002, 1092.5], "paddingInner": 0.2, "paddingOuter": 0}, "axis": null}}},

  {"data": {"name": "cdWin"},
   "transform": [{"filter": "datum.p === 'd' && datum.k === 'detect'"}],
   "mark": {"type": "rect", "color": "#a6e85d"},
   "encoding": {
     "x": {"field": "s", "type": "quantitative", "scale": {"domain": [-50, 150], "range": [474, 783], "nice": false, "zero": false}, "axis": null},
     "x2": {"field": "e"},
     "y": {"field": "tr", "type": "nominal", "scale": {"type": "band", "domain": ["top", "bottom"], "range": [1002, 1092.5], "paddingInner": 0.2, "paddingOuter": 0}, "axis": null}}},

  {"data": {"name": "cdRaster"},
   "transform": [{"filter": "datum.p === 'd' && datum.tr === 'top'"}],
   "mark": {"type": "tick", "orient": "vertical", "size": 8, "thickness": 1.8, "color": "black", "opacity": 1},
   "encoding": {
     "x": {"field": "t", "type": "quantitative", "scale": {"domain": [-50, 150], "range": [474, 783], "nice": false, "zero": false},
           "axis": {"orient": "bottom", "offset": -267, "labels": false, "ticks": false, "tickSize": 0, "domainWidth": 2, "title": null}},
     "y": {"field": "n", "type": "ordinal", "scale": {"type": "point", "domain": [2, 7, 8], "range": [1002, 1042], "padding": 0.68},
           "axis": {"orient": "left", "offset": -474, "ticks": false, "tickSize": 0, "labelFontSize": 11, "labelPadding": 5, "domainWidth": 2, "title": "Neuron", "titleFontSize": 12, "titlePadding": 9}}}},

  {"data": {"name": "cdRaster"},
   "transform": [{"filter": "datum.p === 'd' && datum.tr === 'bottom'"}],
   "mark": {"type": "tick", "orient": "vertical", "size": 8, "thickness": 1.8, "color": "black", "opacity": 1},
   "encoding": {
     "x": {"field": "t", "type": "quantitative", "scale": {"domain": [-50, 150], "range": [474, 783], "nice": false, "zero": false},
           "axis": {"orient": "bottom", "offset": -217, "values": [-50, 0, 50, 100, 150], "labelExpr": "'' + datum.value", "labelFontSize": 12, "labelPadding": 6, "ticks": false, "tickSize": 0, "domainWidth": 2, "title": "Time [ms]", "titleFontSize": 14, "titlePadding": 3}},
     "y": {"field": "n", "type": "ordinal", "scale": {"type": "point", "domain": [2, 7, 8], "range": [1052, 1092], "padding": 0.68},
           "axis": {"orient": "left", "offset": -474, "ticks": false, "tickSize": 0, "labelFontSize": 11, "labelPadding": 5, "domainWidth": 2, "title": "Neuron", "titleFontSize": 12, "titlePadding": 9}}}},

  {"data": {"name": "cdBars"},
   "transform": [{"filter": "datum.p === 'd'"}],
   "mark": {"type": "rule", "strokeWidth": 3, "color": "#e62a2a", "strokeCap": "butt"},
   "encoding": {
     "x": {"field": "s", "type": "quantitative", "scale": {"domain": [-50, 150], "range": [474, 783], "nice": false, "zero": false}, "axis": null},
     "x2": {"field": "e"},
     "y": {"field": "tr", "type": "nominal", "scale": {"type": "point", "domain": ["top", "bottom"], "range": [1046, 1095.5], "padding": 0}, "axis": null}}},

  {"data": {"name": "cdGuides"},
   "transform": [{"filter": "datum.p === 'd'"}],
   "mark": {"type": "rule", "strokeWidth": 1.5, "strokeDash": [2, 2]},
   "encoding": {
     "x": {"field": "t", "type": "quantitative", "scale": {"domain": [-50, 150], "range": [474, 783], "nice": false, "zero": false}, "axis": null},
     "y": {"field": "from", "type": "quantitative", "scale": {"domain": [-1, 3], "range": [962, 1122], "nice": false, "zero": false}, "axis": null},
     "y2": {"field": "to"},
     "color": {"field": "tone", "type": "nominal", "scale": {"domain": ["blue", "red", "detect"], "range": ["#2f2ff0", "#f02f2f", "#4d8c1c"]}, "legend": null}}},

  {"data": {"name": "cdDots"},
   "transform": [{"filter": "datum.p === 'd'"}],
   "mark": {"type": "point", "shape": "circle", "filled": true, "size": 34, "color": "black", "opacity": 1},
   "encoding": {
     "x": {"field": "t", "type": "quantitative", "scale": {"domain": [-50, 150], "range": [474, 783], "nice": false, "zero": false}, "axis": null},
     "y": {"field": "lane", "type": "quantitative", "scale": {"domain": [-1, 3], "range": [962, 1122], "nice": false, "zero": false}, "axis": null}}},

  {"data": {"name": "cdText"},
   "transform": [{"filter": "datum.p === 'd'"}],
   "mark": {"type": "text", "fontSize": 11, "fontWeight": "bold", "align": "right", "baseline": "middle"},
   "encoding": {
     "x": {"field": "t", "type": "quantitative", "scale": {"domain": [-50, 150], "range": [474, 783], "nice": false, "zero": false}, "axis": null},
     "y": {"field": "lane", "type": "quantitative", "scale": {"domain": [-1, 3], "range": [962, 1122], "nice": false, "zero": false}, "axis": null},
     "text": {"field": "word"},
     "color": {"field": "tone", "type": "nominal", "scale": {"domain": ["blue", "red"], "range": ["#2020f0", "#f02020"]}, "legend": null}}},

  {"data": {"name": "cdText"},
   "transform": [{"filter": "datum.p === 'd'"}],
   "mark": {"type": "text", "fontSize": 11, "align": "left", "baseline": "middle", "dx": 3, "color": "black"},
   "encoding": {
     "x": {"field": "t", "type": "quantitative", "scale": {"domain": [-50, 150], "range": [474, 783], "nice": false, "zero": false}, "axis": null},
     "y": {"field": "lane", "type": "quantitative", "scale": {"domain": [-1, 3], "range": [962, 1122], "nice": false, "zero": false}, "axis": null},
     "text": {"field": "rest"}}},

  {"data": {"name": "curveE"},
   "mark": {"type": "line", "strokeWidth": 2},
   "encoding": {
     "x": {"field": "t", "type": "quantitative", "scale": {"domain": [0, 300], "range": [119, 745], "nice": false, "zero": false},
           "axis": {"orient": "bottom", "offset": -43, "values": [0, 50, 100, 150, 200, 250, 300], "tickSize": -5, "tickWidth": 1, "tickColor": "#333333", "labelFontSize": 13, "labelPadding": 12, "domainWidth": 2.5, "title": "Time [ms]", "titleFontSize": 16, "titlePadding": 2}},
     "y": {"field": "f", "type": "quantitative", "scale": {"domain": [0, 0.1], "range": [1266, 1178.3], "nice": false, "zero": false},
           "axis": {"orient": "left", "offset": -119, "values": [0, 0.1], "format": ".1f", "ticks": false, "tickSize": 0, "labelFontSize": 13, "labelPadding": 6, "domainWidth": 2, "title": ["Relative", "frequency", "●●●"], "titleFontSize": 14, "titleLineHeight": 17, "titlePadding": 10}},
     "color": {"field": "s", "type": "nominal", "scale": {"domain": ["red", "blue"], "range": ["#ee2020", "#2020ee"]}, "legend": null},
     "order": {"field": "t", "type": "quantitative"}}},

  {"data": {"name": "asymptoteE"},
   "mark": {"type": "text", "fontSize": 14, "fontStyle": "italic", "align": "left", "baseline": "middle", "dx": 12},
   "encoding": {
     "x": {"field": "t", "type": "quantitative", "scale": {"domain": [0, 300], "range": [119, 745], "nice": false, "zero": false}, "axis": null},
     "y": {"field": "value", "type": "quantitative", "scale": {"domain": [0, 0.1], "range": [1266, 1178.3], "nice": false, "zero": false}, "axis": null},
     "text": {"field": "label"}}}
]
}
